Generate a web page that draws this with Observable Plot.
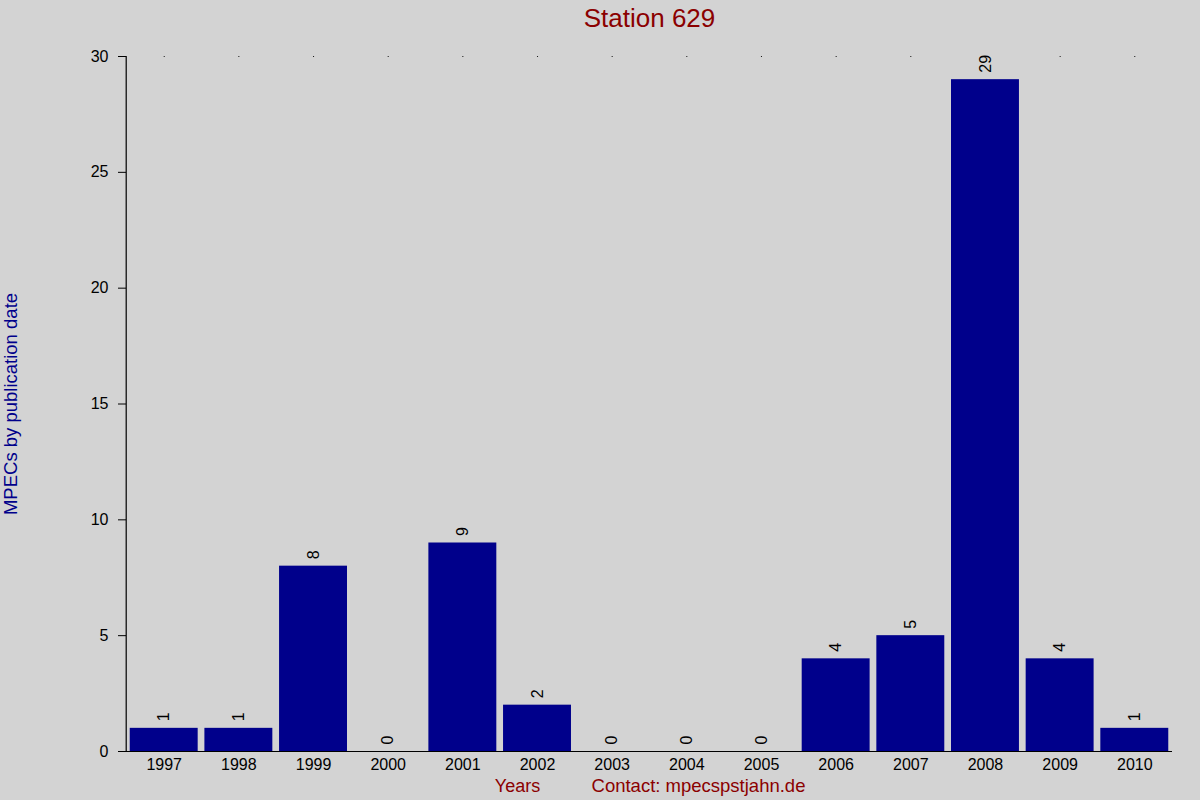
<!DOCTYPE html>
<html>
<head>
<meta charset="utf-8">
<script src="https://cdn.jsdelivr.net/npm/d3@7"></script>
<script src="https://cdn.jsdelivr.net/npm/@observablehq/plot@0.6"></script>
<style>
  html, body { margin: 0; padding: 0; background: #d3d3d3; }
  #chart svg { display: block; }
</style>
</head>
<body>
<div id="chart"></div>
<script>
const years = ["1997","1998","1999","2000","2001","2002","2003","2004","2005","2006","2007","2008","2009","2010"];
const counts = [1, 1, 8, 0, 9, 2, 0, 0, 0, 4, 5, 29, 4, 1];
const yTicks = [0, 5, 10, 15, 20, 25, 30];
const title = "Station 629";
const yLabel = "MPECs by publication date";
const xLabel = "Years";
const contact = "Contact: mpecspstjahn.de";

const data = years.map((y, i) => ({year: y, count: counts[i]}));

const font = "'Liberation Sans', Arial, sans-serif";

const chart = Plot.plot({
  width: 1200,
  height: 800,
  marginLeft: 126,
  marginRight: 28,
  marginTop: 56,
  marginBottom: 49,
  style: {background: "#d3d3d3", fontFamily: font, fontSize: "16px", color: "black", overflow: "visible"},
  x: {type: "band", domain: years, paddingInner: 0.09, paddingOuter: 0.05, round: false, axis: null},
  y: {domain: [0, 30], axis: null},
  marks: [
    Plot.barY(data, {x: "year", y: "count", fill: "#00008b"}),
    Plot.dot(years, {x: d => d, y: () => 30, r: 0.6, fill: "black", stroke: null}),
    Plot.text(data, {x: "year", y: "count", text: d => String(d.count), rotate: -90, textAnchor: "start", lineAnchor: "middle", dy: -7, fontSize: 16, fill: "black"}),
    Plot.axisY({ticks: yTicks, tickSize: 8, tickPadding: 10, label: null, fontSize: 16, stroke: "black", fill: "black"}),
    Plot.axisX({tickSize: 0, tickPadding: 7, label: null, fontSize: 16, fill: "black"}),
    Plot.ruleY([0], {stroke: "black", strokeWidth: 1.2}),
    Plot.ruleX([years[0]], {dx: -38, stroke: "black", strokeWidth: 1.2}),
    Plot.text([title], {frameAnchor: "top", dy: -38, textAnchor: "middle", lineAnchor: "middle", fontSize: 26, fill: "#8b0000"}),
    Plot.text([yLabel], {frameAnchor: "left", dx: -115, rotate: -90, textAnchor: "middle", lineAnchor: "middle", fontSize: 18.5, fill: "#00008b"}),
    Plot.text([xLabel], {frameAnchor: "bottom", dx: -132, dy: 35, textAnchor: "middle", lineAnchor: "middle", fontSize: 18, fill: "#8b0000"}),
    Plot.text([contact], {frameAnchor: "bottom", dx: 49, dy: 35, textAnchor: "middle", lineAnchor: "middle", fontSize: 18.5, fill: "#8b0000"})
  ]
});
document.getElementById("chart").appendChild(chart);
</script>
</body>
</html>
